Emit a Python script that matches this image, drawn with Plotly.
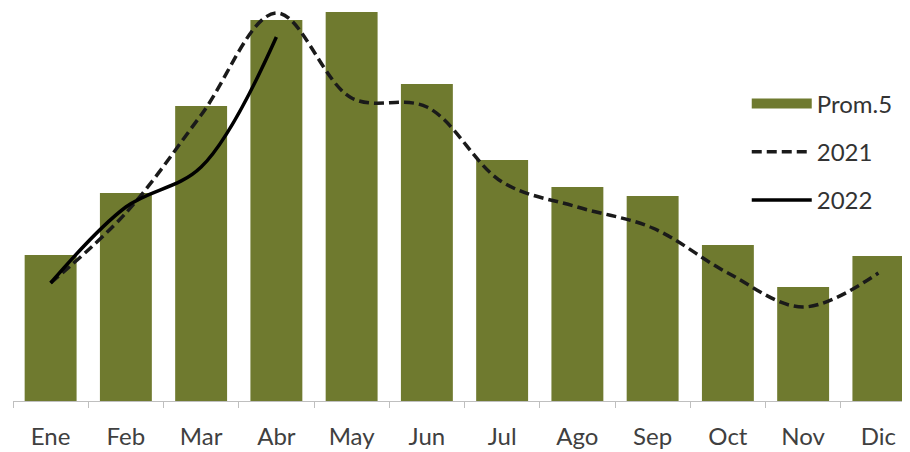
import plotly.graph_objects as go

months = ["Ene", "Feb", "Mar", "Abr", "May", "Jun", "Jul", "Ago", "Sep", "Oct", "Nov", "Dic"]
prom5 = [146, 208, 295, 381, 389, 317, 241, 214, 205, 156, 114, 145]
y2021 = [118, 188, 286, 388, 303, 294, 219, 194, 173, 128, 94, 128]
months_2022 = ["Ene", "Feb", "Mar", "Abr"]
y2022 = [118, 194, 234, 364]

olive = "#6f7a2f"
fig = go.Figure()
fig.add_trace(go.Bar(x=months, y=prom5, name="Prom.5", showlegend=False,
                     marker=dict(color=olive, line=dict(width=0))))
# legend key for the bars (wide olive swatch, as in the original)
fig.add_trace(go.Scatter(x=[None], y=[None], name="Prom.5", mode="lines", legendgroup="a",
                         line=dict(color=olive, width=14)))
fig.add_trace(go.Scatter(x=months, y=y2021, name="2021", mode="lines", legendgroup="b",
                         line=dict(color="#1a1a1a", width=3.5, dash="10px,5px", shape="spline", smoothing=1)))
fig.add_trace(go.Scatter(x=months_2022, y=y2022, name="2022", mode="lines", legendgroup="c",
                         line=dict(color="#000000", width=3.5, shape="spline", smoothing=1)))

fig.update_layout(
    width=910, height=452,
    margin=dict(l=5, r=8, t=0, b=59),
    paper_bgcolor="white", plot_bgcolor="white",
    font=dict(family="Lato, Open Sans, sans-serif", size=24, color="#404040"),
    bargap=0.31,
    showlegend=True,
    legend=dict(x=0.818, y=0.813, xanchor="left", yanchor="top", itemwidth=60,
                tracegroupgap=14, font=dict(size=24, color="#333333"), bgcolor="rgba(0,0,0,0)"),
    xaxis=dict(type="category", range=[-0.5, 11.42], showline=True, linecolor="#bfbfbf", linewidth=1,
               ticks="outside", tickson="boundaries", ticklen=6, tickcolor="#bfbfbf",
               showgrid=False, ticklabelstandoff=14, tickfont=dict(size=24, color="#404040")),
    yaxis=dict(range=[0, 393], visible=False, showgrid=False),
)
fig.write_html("out.html")
